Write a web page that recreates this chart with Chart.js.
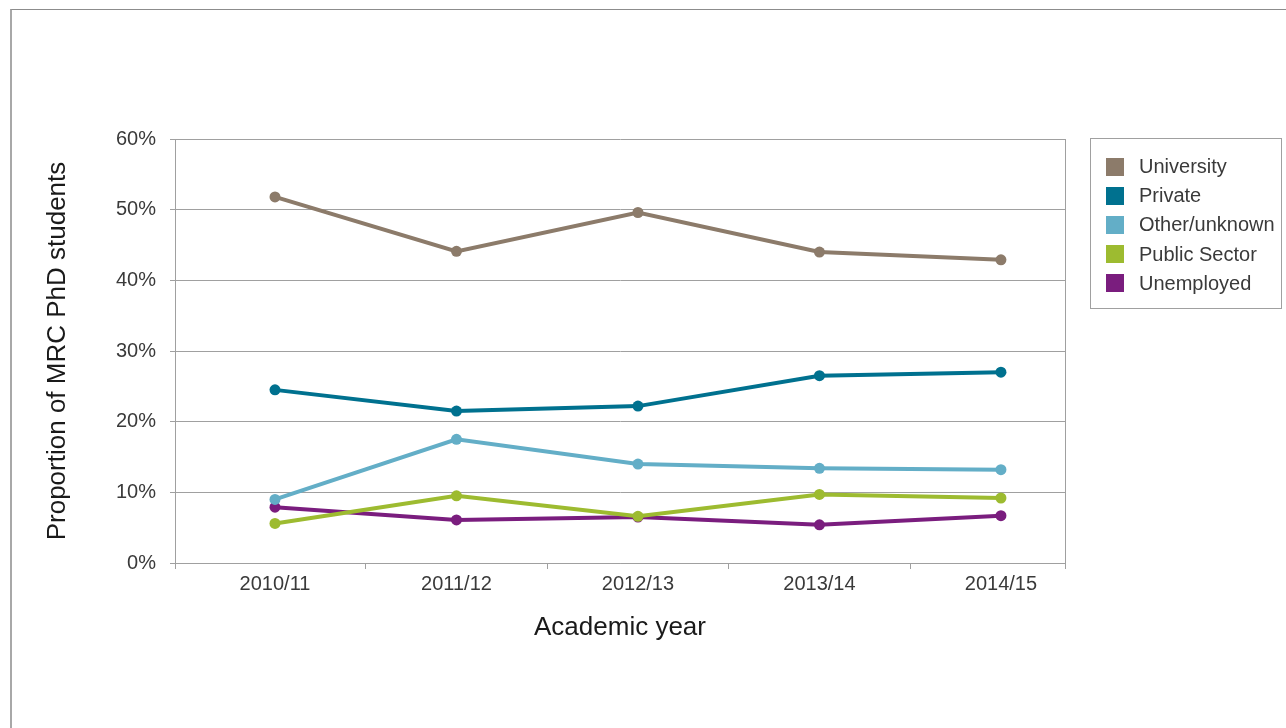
<!DOCTYPE html>
<html>
<head>
<meta charset="utf-8">
<script src="https://cdn.jsdelivr.net/npm/chart.js@4.4.1/dist/chart.umd.min.js"></script>
<style>
  html, body { margin: 0; padding: 0; background: #fff; overflow: hidden; }
  #frame {
    position: absolute; left: 10px; top: 9px; width: 1300px; height: 740px;
    border-top: 1px solid #8c8c8c; border-left: 2px solid #a8a8a8;
  }
  #chart { position: absolute; left: 0; top: 0; }
</style>
</head>
<body>
<div id="frame"></div>
<canvas id="chart" width="1286" height="728"></canvas>
<script>
// academic years on the x axis
const years = ['2010/11', '2011/12', '2012/13', '2013/14', '2014/15'];
const yTicks = [0, 10, 20, 30, 40, 50, 60];

// share of MRC PhD students by destination (%)
const university  = [51.8, 44.1, 49.6, 44.0, 42.9];
const privateSect = [24.5, 21.5, 22.2, 26.5, 27.0];
const otherUnknown = [9.0, 17.5, 14.0, 13.4, 13.2];
const publicSector = [5.6, 9.5, 6.6, 9.7, 9.2];
const unemployed  = [7.9, 6.1, 6.5, 5.4, 6.7];

const lines = [
    {label: 'University',    color: '#8c7b6a', data: university},
    {label: 'Private',       color: '#00718f', data: privateSect},
    {label: 'Other/unknown', color: '#63aec7', data: otherUnknown},
    {label: 'Public Sector', color: '#9dbb30', data: publicSector},
    {label: 'Unemployed',    color: '#7a1d7e', data: unemployed},
];

const FONT = "'Liberation Sans', Arial, sans-serif";
const GRID = '#a0a0a0';

// box round the plot, with the tick under each edge
const plotBorder = {
    id: 'plotBorder',
    afterDatasetsDraw(chart) {
        const {ctx, chartArea: a} = chart;
        ctx.save();
        ctx.strokeStyle = GRID;
        ctx.lineWidth = 1;
        ctx.beginPath();
        ctx.moveTo(Math.round(a.right) + 0.5, Math.round(a.top));
        ctx.lineTo(Math.round(a.right) + 0.5, Math.round(a.bottom) + 6);
        ctx.moveTo(Math.round(a.left) + 0.5, Math.round(a.bottom));
        ctx.lineTo(Math.round(a.left) + 0.5, Math.round(a.bottom) + 6);
        ctx.stroke();
        ctx.restore();
    }
};

// legend in its own bordered box on the right
const boxLegend = {
    id: 'boxLegend',
    afterDraw(chart) {
        const ctx = chart.ctx;
        const x0 = 1090.5, y0 = 138.5, w = 191, h = 170;
        ctx.save();
        ctx.strokeStyle = GRID;
        ctx.lineWidth = 1;
        ctx.strokeRect(x0, y0, w, h);
        ctx.font = '20px ' + FONT;
        ctx.textBaseline = 'middle';
        chart.data.datasets.forEach((ds, i) => {
            const cy = 166.5 + i * 29.2;
            ctx.fillStyle = ds.borderColor;
            ctx.fillRect(1106, Math.round(cy - 9), 18, 18);
            ctx.fillStyle = '#3a3a3a';
            ctx.fillText(ds.label, 1139, cy + 1);
        });
        ctx.restore();
    }
};

new Chart(document.getElementById('chart'), {
    type: 'line',
    data: {
        datasets: lines.map(lin => ({
            label: lin.label,
            borderColor: lin.color,
            backgroundColor: lin.color,
            borderWidth: 4,
            pointRadius: 5.5,
            pointBorderWidth: 0,
            tension: 0,
            data: lin.data.map((v, i) => ({x: i, y: v})),
        }))
    },
    options: {
        responsive: false,
        animation: false,
        layout: {padding: {left: 30, top: 139, right: 221, bottom: 0}},
        plugins: {legend: {display: false}, tooltip: {enabled: false}},
        scales: {
            x: {
                type: 'linear',
                min: -0.551,
                max: 4.353,
                afterFit: s => { s.height = 165; },
                afterBuildTicks: s => { s.ticks = years.map((y, i) => ({value: i})); },
                ticks: {
                    autoSkip: false,
                    maxRotation: 0,
                    padding: 3,
                    color: '#3a3a3a',
                    font: {family: FONT, size: 20},
                    callback: (v) => years[v],
                },
                grid: {
                    offset: true,
                    drawOnChartArea: false,
                    drawTicks: true,
                    tickLength: 6,
                    color: c => c.index === 0 ? 'rgba(0,0,0,0)' : GRID,
                },
                border: {color: GRID},
                title: {
                    display: true,
                    text: 'Academic year',
                    color: '#1a1a1a',
                    font: {family: FONT, size: 26},
                    padding: {top: 0, bottom: 85},
                },
            },
            y: {
                min: 0,
                max: 60,
                afterFit: s => { s.width = 145; },
                afterBuildTicks: s => { s.ticks = yTicks.map(v => ({value: v})); },
                ticks: {
                    padding: 14,
                    color: '#3a3a3a',
                    font: {family: FONT, size: 20},
                    callback: v => v + '%',
                },
                grid: {color: GRID, tickLength: 5},
                border: {color: GRID},
                title: {
                    display: true,
                    text: 'Proportion of MRC PhD students',
                    color: '#1a1a1a',
                    font: {family: FONT, size: 26},
                    padding: {top: 12, bottom: 0},
                },
            },
        },
    },
    plugins: [plotBorder, boxLegend],
});
</script>
</body>
</html>
